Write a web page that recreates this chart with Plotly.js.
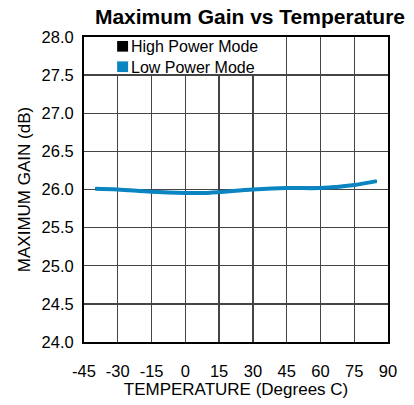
<!DOCTYPE html>
<html><head><meta charset="utf-8">
<script src="https://cdn.plot.ly/plotly-3.0.1.min.js"></script>
<style>html,body{margin:0;padding:0;background:#fff}</style>
</head><body><div id="chart" style="width:414px;height:405px"></div>
<script>
const temps = [-40, -30, -15, 0, 10, 30, 45, 60, 75, 85];
const highPower = [26.01, 26.0, 25.975, 25.96, 25.96, 26.0, 26.02, 26.025, 26.06, 26.11];
const lowPower = [26.01, 26.0, 25.97, 25.955, 25.955, 26.0, 26.02, 26.02, 26.06, 26.11];
const xTicks = [-45, -30, -15, 0, 15, 30, 45, 60, 75, 90];
const yTicks = [24.0, 24.5, 25.0, 25.5, 26.0, 26.5, 27.0, 27.5, 28.0];
const seriesNames = ['High Power Mode', 'Low Power Mode'];
const colors = ['#000000', '#0a85c2'];

const traces = [
  {x: temps, y: highPower, name: seriesNames[0], mode: 'lines', line: {color: colors[0], width: 2.5, shape: 'spline'}, showlegend: false, hoverinfo: 'skip'},
  {x: temps, y: lowPower, name: seriesNames[1], mode: 'lines', line: {color: colors[1], width: 4, shape: 'spline'}, showlegend: false, hoverinfo: 'skip'}
];

// legend: one multi-line text plus coloured squares
const legendSquares = [[0.952, 0.987], [0.885, 0.920]];
const shapes = [{type: 'rect', layer: 'between', xref: 'x', yref: 'y', x0: -45, x1: 44.3, y0: 27.515, y1: 28,
                 fillcolor: '#fff', line: {width: 0}}];
seriesNames.forEach((n, i) => shapes.push({
  type: 'rect', layer: 'above', xref: 'paper', yref: 'paper',
  x0: 0.109, x1: 0.145, y0: legendSquares[i][0], y1: legendSquares[i][1],
  fillcolor: colors[i], line: {width: 0}
}));

const layout = {
  width: 414, height: 405,
  margin: {l: 84, r: 26, t: 37, b: 63},
  paper_bgcolor: '#fff', plot_bgcolor: '#fff',
  font: {family: 'Liberation Sans, Arial, sans-serif', size: 16.5, color: '#000'},
  title: {text: '<b>Maximum Gain vs Temperature</b>', font: {size: 21, color: '#000'},
          xref: 'paper', x: 0.546, xanchor: 'center', yref: 'container', y: 0.958, yanchor: 'middle'},
  xaxis: {range: [-45, 90], tickvals: xTicks, ticktext: xTicks.map(String),
          showgrid: true, gridcolor: '#444', gridwidth: 1.3,
          showline: true, linecolor: '#000', linewidth: 2, mirror: true, zeroline: false,
          ticks: 'outside', ticklen: 13, tickcolor: 'rgba(0,0,0,0)',
          title: {text: 'TEMPERATURE (Degrees C)', font: {size: 17}, standoff: 2}},
  yaxis: {range: [24, 28], tickvals: yTicks, ticktext: yTicks.map(v => v.toFixed(1)),
          showgrid: true, gridcolor: '#444', gridwidth: 1.3,
          showline: true, linecolor: '#000', linewidth: 2, mirror: true, zeroline: false,
          ticks: 'outside', ticklen: 5, tickcolor: 'rgba(0,0,0,0)',
          title: {text: 'MAXIMUM GAIN (dB)', font: {size: 17}, standoff: 7}},
  shapes: shapes,
  annotations: [{
    text: seriesNames.join('<br>'), align: 'left',
    xref: 'paper', yref: 'paper', x: 0.151, y: 0.934, xanchor: 'left', yanchor: 'middle',
    showarrow: false, borderpad: 0, font: {size: 16, color: '#000'}
  }],
  showlegend: false
};
Plotly.newPlot('chart', traces, layout, {displayModeBar: false, staticPlot: true});
</script></body></html>
